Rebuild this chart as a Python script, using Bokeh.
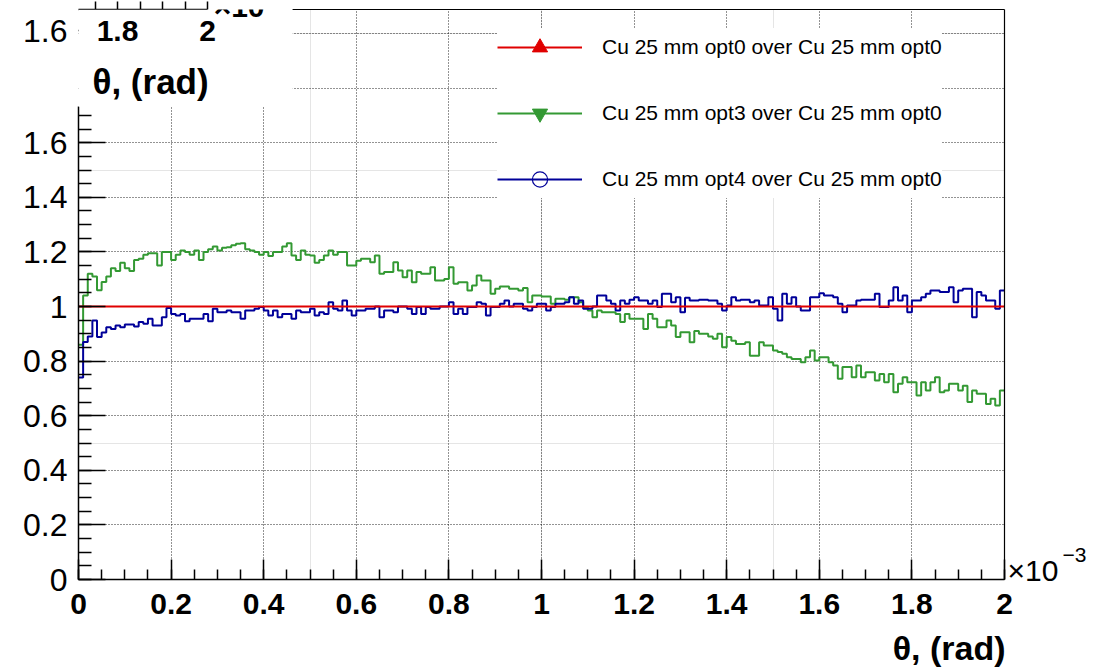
import numpy as np
from bokeh.plotting import figure
from bokeh.models import (Range1d, LinearAxis, FixedTicker, Grid, Legend, LegendItem,
                          Label, BoxAnnotation, ColumnDataSource, Title)
from bokeh.embed import file_html
from bokeh.resources import INLINE

# ---------------- data (theta in units of 1e-3 rad, 200 bins on [0, 2]) ----------------
THETA_MIN = 0.0
THETA_MAX = 2.0
N_BINS = 200

RATIO_OPT0 = [1.0] * 200

RATIO_OPT3 = [
    0.86, 1.04, 1.12, 1.11, 1.06, 1.09, 1.11, 1.14, 1.13, 1.16,
    1.14, 1.13, 1.17, 1.175, 1.19, 1.195, 1.195, 1.15, 1.2, 1.2,
    1.17, 1.19, 1.205, 1.2, 1.19, 1.205, 1.17, 1.2, 1.21, 1.22,
    1.205, 1.215, 1.217, 1.224, 1.23, 1.232, 1.21, 1.205, 1.2, 1.19,
    1.2, 1.185, 1.2, 1.2, 1.22, 1.232, 1.187, 1.17, 1.205, 1.19,
    1.187, 1.16, 1.17, 1.187, 1.205, 1.19, 1.2, 1.2, 1.15, 1.15,
    1.168, 1.175, 1.175, 1.162, 1.187, 1.12, 1.126, 1.126, 1.162, 1.132,
    1.107, 1.132, 1.089, 1.126, 1.12, 1.12, 1.144, 1.095, 1.095, 1.101,
    1.144, 1.083, 1.089, 1.089, 1.059, 1.077, 1.114, 1.095, 1.095, 1.047,
    1.065, 1.073, 1.073, 1.065, 1.065, 1.059, 1.068, 1.016, 1.04, 1.04,
    1.037, 1.037, 1.01, 1.028, 1.028, 1.025, 1.034, 1.034, 1.016, 0.998,
    0.985, 0.961, 0.985, 0.979, 0.979, 0.979, 0.973, 0.943, 0.973, 0.955,
    0.955, 0.955, 0.918, 0.973, 0.955, 0.924, 0.924, 0.949, 0.93, 0.888,
    0.906, 0.906, 0.869, 0.91, 0.90, 0.90, 0.89, 0.882, 0.90, 0.851,
    0.888, 0.875, 0.863, 0.863, 0.869, 0.82, 0.82, 0.869, 0.857, 0.857,
    0.839, 0.833, 0.827, 0.814, 0.808, 0.808, 0.796, 0.814, 0.839, 0.802,
    0.814, 0.814, 0.796, 0.784, 0.735, 0.778, 0.778, 0.741, 0.784, 0.741,
    0.759, 0.759, 0.729, 0.753, 0.723, 0.753, 0.686, 0.717, 0.741, 0.723,
    0.723, 0.674, 0.723, 0.692, 0.723, 0.741, 0.686, 0.692, 0.717, 0.717,
    0.692, 0.71, 0.65, 0.692, 0.68, 0.68, 0.643, 0.662, 0.637, 0.692,
]

RATIO_OPT4 = [
    0.74, 0.87, 0.89, 0.949, 0.888, 0.905, 0.924, 0.918, 0.93, 0.924,
    0.934, 0.934, 0.927, 0.943, 0.937, 0.955, 0.93, 0.93, 0.961, 0.995,
    0.973, 0.967, 0.973, 0.946, 0.955, 0.955, 0.955, 0.973, 0.946, 0.992,
    0.979, 0.979, 0.985, 0.979, 0.979, 0.955, 0.985, 0.985, 0.992, 0.998,
    0.985, 0.967, 0.985, 0.961, 0.973, 0.973, 0.955, 0.985, 0.979, 0.979,
    0.992, 0.967, 0.979, 0.973, 1.016, 0.992, 0.985, 1.022, 0.985, 0.967,
    0.985, 0.985, 0.992, 0.992, 1.0, 0.961, 0.985, 0.985, 0.979, 1.0,
    1.0, 0.992, 0.973, 0.998, 0.973, 0.998, 0.992, 0.992, 1.0, 1.0,
    1.016, 0.973, 0.992, 0.973, 0.998, 0.998, 1.016, 1.01, 0.967, 0.998,
    0.998, 1.01, 1.022, 1.0, 1.01, 1.01, 0.992, 0.985, 0.998, 1.01,
    1.01, 0.985, 0.998, 1.01, 1.01, 1.016, 1.034, 1.01, 1.022, 0.992,
    0.992, 1.0, 1.04, 1.04, 1.022, 1.01, 0.985, 1.022, 1.01, 1.025,
    1.034, 1.022, 1.022, 1.01, 1.022, 0.998, 1.047, 1.047, 1.016, 1.034,
    0.979, 1.032, 1.022, 1.022, 1.025, 1.025, 1.022, 1.022, 1.01, 0.985,
    1.004, 1.034, 1.022, 1.025, 1.025, 1.016, 1.022, 1.004, 1.004, 1.034,
    0.992, 0.949, 1.047, 1.01, 1.034, 1.0, 0.985, 0.985, 1.034, 1.034,
    1.049, 1.04, 1.04, 1.034, 1.01, 0.979, 1.004, 1.004, 1.022, 1.025,
    1.025, 1.025, 1.047, 0.998, 0.998, 1.022, 1.071, 1.022, 1.04, 0.979,
    1.022, 1.022, 1.034, 1.047, 1.059, 1.059, 1.053, 1.053, 1.071, 1.016,
    1.059, 1.065, 1.065, 0.961, 1.053, 1.04, 1.022, 1.022, 0.992, 1.059,
]

SERIES_LABELS = [
    "Cu 25 mm opt0 over Cu 25 mm opt0",
    "Cu 25 mm opt3 over Cu 25 mm opt0",
    "Cu 25 mm opt4 over Cu 25 mm opt0",
]

X_TICKS = [0, 0.2, 0.4, 0.6, 0.8, 1, 1.2, 1.4, 1.6, 1.8, 2]
Y_TICKS = [0, 0.2, 0.4, 0.6, 0.8, 1, 1.2, 1.4, 1.6]
GRID_Y = [0, 0.2, 0.4, 0.6, 0.8, 1, 1.2, 1.4, 1.6, 1.8, 2]
TICK_OVERRIDES = {0: "0", 1: "1", 2: "2"}
X_TITLE = "θ, (rad)"
X_EXPONENT_BASE = "×10"
X_EXPONENT = "−3"

# leftover axis of a neighbouring pad, visible in the top-left corner
REMNANT_TICK_LABELS = ["1.6", "1.8", "2"]
REMNANT_TICK_VALUES = [1.6, 1.8, 2.0]
REMNANT_MINOR = [1.55, 1.6, 1.65, 1.7, 1.75, 1.8, 1.85, 1.9, 1.95, 2.0]
REMNANT_EXPONENT = "×10"

# ---------------- layout ----------------
W, H = 1097, 670
BL, BR, BT, BB = 78, 93, 9, 91
Y_END = 2.088
Y_AXIS_TOP = 1.733
TOP_LINE_START = 0.4627
PX_PER_X = 462.5          # canvas px per 1e-3 rad
PX_PER_Y = 273.0

RED = "#e00000"
GREEN = "#339933"
BLUE = "#000099"
FONT = "Liberation Sans"

p = figure(width=W, height=H, x_range=Range1d(THETA_MIN, THETA_MAX), y_range=Range1d(0, Y_END),
           output_backend="svg", toolbar_location=None,
           x_axis_location=None, y_axis_location=None,
           min_border_left=BL, min_border_right=BR, min_border_top=BT, min_border_bottom=BB)
p.outline_line_color = None
p.background_fill_color = "white"
p.border_fill_color = "white"

# canvas pixel -> data helpers (for the decoration copied from the neighbouring pad)
def cx_to_x(cx):
    return (cx - BL) / PX_PER_X
def cy_to_y(cy):
    return (H - BB - cy) / PX_PER_Y
def rem_px(v):
    return 207 - (2.0 - v) * 450

x_minor = [round(0.05 * i, 2) for i in range(0, 41)]
y_minor = [round(0.05 * i, 2) for i in range(0, 35)]
x_ticker = FixedTicker(ticks=X_TICKS, minor_ticks=x_minor)
# the neighbouring pad's first tick label "1.6" sits in the left margin
rem_y = round(cy_to_y(30), 3)
y_ticker = FixedTicker(ticks=Y_TICKS + [rem_y], minor_ticks=y_minor)
y_over = dict(TICK_OVERRIDES)
y_over[rem_y] = REMNANT_TICK_LABELS[0]

xaxis = LinearAxis(ticker=x_ticker, major_label_overrides=TICK_OVERRIDES,
                   axis_line_color="black", axis_line_width=1.5,
                   major_tick_in=20, major_tick_out=0, minor_tick_in=10, minor_tick_out=0,
                   major_tick_line_color="black", minor_tick_line_color="black",
                   major_tick_line_width=1.5, minor_tick_line_width=1.5,
                   major_label_text_font=FONT, major_label_text_font_style="bold",
                   major_label_text_font_size="30px", major_label_text_color="black",
                   major_label_standoff=14,
                   axis_label=" ", axis_label_standoff=6, axis_label_text_font_size="1px")
p.add_layout(xaxis, "below")

p.add_layout(Title(text=X_TITLE, align="right", offset=-1, standoff=0,
                   text_font=FONT, text_font_style="bold", text_font_size="34px",
                   text_color="black"), "below")

yaxis = LinearAxis(ticker=y_ticker, major_label_overrides=y_over, bounds=(0, Y_AXIS_TOP),
                   axis_line_color="black", axis_line_width=1.5,
                   major_tick_in=27, major_tick_out=0, minor_tick_in=13, minor_tick_out=0,
                   major_tick_line_color="black", minor_tick_line_color="black",
                   major_tick_line_width=1.5, minor_tick_line_width=1.5,
                   major_label_text_font=FONT, major_label_text_font_size="32px",
                   major_label_text_color="black", major_label_standoff=11)
p.add_layout(yaxis, "left")

# top frame edge (only where the neighbouring pad does not cover it)
p.add_layout(LinearAxis(ticker=FixedTicker(ticks=[]), bounds=(TOP_LINE_START, THETA_MAX),
                        axis_line_color="black", axis_line_width=1.2,
                        major_tick_in=0, major_tick_out=0, minor_tick_in=0, minor_tick_out=0,
                        major_label_standoff=0, major_label_text_font_size="0px"), "above")
# bottom axis of the neighbouring pad
comb_ticks = [cx_to_x(rem_px(v)) for v in REMNANT_MINOR if rem_px(v) >= BL]
p.add_layout(LinearAxis(ticker=FixedTicker(ticks=comb_ticks), bounds=(0, cx_to_x(rem_px(2.0))),
                        axis_line_color="black", axis_line_width=1.5,
                        major_tick_in=0, major_tick_out=8, minor_tick_in=0, minor_tick_out=0,
                        major_tick_line_color="black", major_tick_line_width=1.5,
                        major_label_standoff=0, major_label_text_font_size="0px",
                        major_label_text_alpha=0), "above")

# right frame edge plus the x-axis exponent (x10, then the superscript)
exp_pos = round(cy_to_y(570), 3)
sup_pos = round(cy_to_y(555), 3)
p.add_layout(LinearAxis(ticker=FixedTicker(ticks=[exp_pos]), bounds=(0, Y_END),
                        major_label_overrides={exp_pos: X_EXPONENT_BASE},
                        axis_line_color="black", axis_line_width=1.2,
                        major_tick_in=0, major_tick_out=0, minor_tick_in=0, minor_tick_out=0,
                        major_label_standoff=3, major_label_text_font=FONT,
                        major_label_text_font_size="30px", major_label_text_color="black"),
             "right")
p.add_layout(LinearAxis(ticker=FixedTicker(ticks=[sup_pos]),
                        major_label_overrides={sup_pos: X_EXPONENT},
                        axis_line_color=None,
                        major_tick_in=0, major_tick_out=0, minor_tick_in=0, minor_tick_out=0,
                        major_label_standoff=1, major_label_text_font=FONT,
                        major_label_text_font_size="21px", major_label_text_color="black"),
             "right")

p.add_layout(Grid(dimension=0, ticker=x_ticker, grid_line_color="black", grid_line_alpha=0.85,
                  grid_line_dash="1 2", grid_line_width=1))
p.add_layout(Grid(dimension=1, ticker=FixedTicker(ticks=GRID_Y), bounds=(0, Y_END),
                  grid_line_color="black", grid_line_alpha=0.85,
                  grid_line_dash="1 2", grid_line_width=1))

edges = np.linspace(THETA_MIN, THETA_MAX, N_BINS + 1)
centers = 0.5 * (edges[:-1] + edges[1:])

def step_source(vals):
    return ColumnDataSource(dict(x=edges, y=list(vals) + [vals[-1]]))

r_green = p.step("x", "y", source=step_source(RATIO_OPT3), mode="after", line_color=GREEN, line_width=2)
r_blue = p.step("x", "y", source=step_source(RATIO_OPT4), mode="after", line_color=BLUE, line_width=2)
r_red = p.step("x", "y", source=step_source(RATIO_OPT0), mode="after", line_color=RED, line_width=2)

# marker renderers used only for the legend symbols (hidden on the plot)
m_red = p.scatter(centers, RATIO_OPT0, marker="triangle", size=15,
                  fill_color=RED, line_color=RED, visible=False)
m_green = p.scatter(centers, RATIO_OPT3, marker="inverted_triangle", size=15,
                    fill_color=GREEN, line_color=GREEN, visible=False)
m_blue = p.scatter(centers, RATIO_OPT4, marker="circle", size=15,
                   fill_color=None, line_color=BLUE, line_width=1.2, visible=False)

# white patch hiding the corner where the neighbouring pad overlaps
p.add_layout(BoxAnnotation(left=THETA_MIN, right=TOP_LINE_START, bottom=Y_AXIS_TOP, top=Y_END,
                           fill_color="white", fill_alpha=1.0, line_color=None))

legend = Legend(items=[
    LegendItem(label=SERIES_LABELS[0], renderers=[r_red, m_red]),
    LegendItem(label=SERIES_LABELS[1], renderers=[r_green, m_green]),
    LegendItem(label=SERIES_LABELS[2], renderers=[r_blue, m_blue]),
], location=(419, 381), glyph_width=85, glyph_height=38, label_height=38, spacing=28,
    padding=15, label_standoff=20, label_text_font=FONT, label_text_font_size="21px",
    label_text_color="black", border_line_color=None, background_fill_color="white",
    background_fill_alpha=1.0, margin=0, inactive_fill_alpha=0)
p.add_layout(legend, "center")

# texts of the neighbouring pad that fall inside this frame
for lab, v in zip(REMNANT_TICK_LABELS[1:], REMNANT_TICK_VALUES[1:]):
    p.add_layout(Label(x=cx_to_x(rem_px(v)), y=cy_to_y(30), text=lab,
                       text_font=FONT, text_font_style="bold", text_font_size="30px",
                       text_align="center", text_baseline="middle", text_color="black"))
p.add_layout(Label(x=cx_to_x(213), y=cy_to_y(6), text=REMNANT_EXPONENT,
                   text_font=FONT, text_font_style="bold", text_font_size="30px",
                   text_align="left", text_baseline="alphabetic", text_color="black"))
p.add_layout(Label(x=cx_to_x(150), y=cy_to_y(81), text=X_TITLE,
                   text_font=FONT, text_font_style="bold", text_font_size="35px",
                   text_align="center", text_baseline="middle", text_color="black"))

open("out.html", "w").write(file_html(p, INLINE))
